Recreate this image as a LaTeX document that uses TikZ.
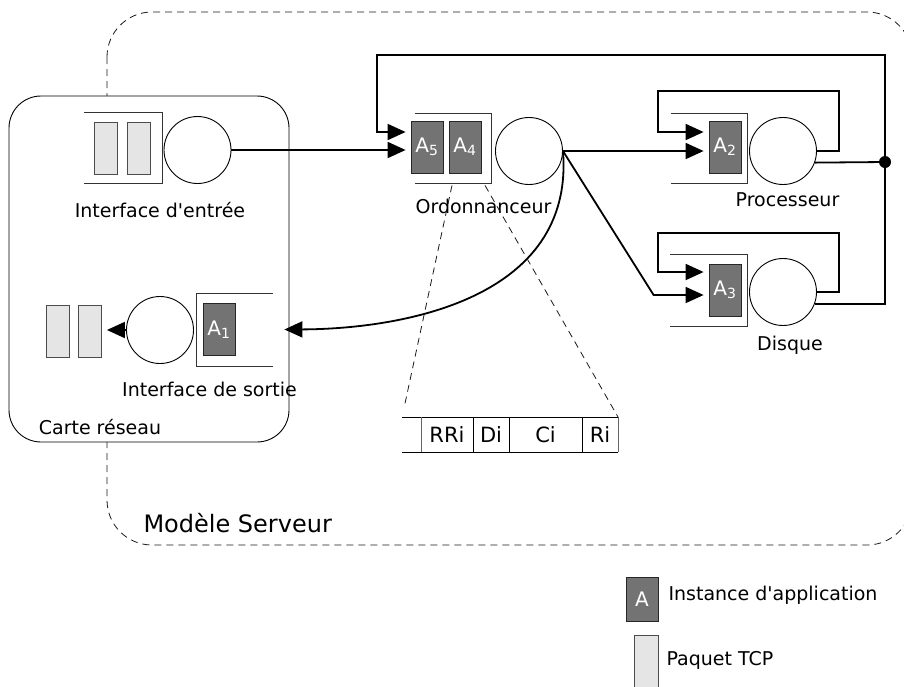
\documentclass[tikz,border=0pt]{standalone}
\usepackage{fontspec}
\setmainfont{DejaVu Sans}[Ligatures=TeXOff]
\usetikzlibrary{arrows.meta,calc}

\begin{document}
\begin{tikzpicture}[
  x=1pt, y=-1pt,
  every node/.style={font=\fontsize{19}{22}\selectfont},
  serveur/.style={circle, draw=black, line width=0.9pt, minimum size=67pt, inner sep=0pt},
  instance/.style={rectangle, draw=black!85, line width=0.8pt, fill=black!55, text=white, minimum width=32pt, minimum height=52pt, inner sep=0pt, font=\fontsize{20}{22}\selectfont},
  paquet/.style={rectangle, draw=black!70, line width=0.8pt, fill=black!10, minimum width=23pt, minimum height=52pt, inner sep=0pt},
  file/.style={draw=black!80, line width=0.8pt},
  lien/.style={line width=1.8pt},
  fleche/.style={lien, -{Triangle[length=18pt,width=16pt]}, shorten >=5pt},
  pointille/.style={draw=black!90, line width=0.8pt, dash pattern=on 7pt off 5pt},
  tableau/.style={line width=0.8pt}
]
\useasboundingbox (0,0) rectangle (904,686);
\clip (0,0) rectangle (904,686);

\draw[pointille, rounded corners=45pt] (107,12) rectangle (912,545);
\draw[line width=0.9pt, fill=white, rounded corners=32pt] (9,96) rectangle (289,442);
\node (carte) at (100,427) {Carte réseau};

\node[paquet] (pk1) at (105.5,148) {};
\node[paquet] (pk2) at (138.5,148) {};
\draw[file] (84,112) -| (162,183) -- (84,183);
\node[serveur] (inS) at (197.5,150) {};
\node (inL) at (160,210) {Interface d'entrée};

\node[instance] (a5) at (427,147) {A\textsubscript{5}};
\node[instance] (a4) at (465,147) {A\textsubscript{4}};
\draw[file] (415,113) -| (491,183) -- (415,183);
\node[serveur] (ordS) at (529,151) {};
\node (ordL) at (483.5,206) {Ordonnanceur};

\node[instance] (a2) at (725,147) {A\textsubscript{2}};
\draw[file] (671,113) -| (747,183) -- (671,183);
\node[serveur] (procS) at (783,151) {};
\node (procL) at (787.5,200) {Processeur};

\node[instance] (a3) at (725,290) {A\textsubscript{3}};
\draw[file] (670,254) -| (747,326) -- (670,326);
\node[serveur] (dskS) at (783,292) {};
\node (dskL) at (790,345) {Disque};

\node[instance] (a1) at (219,329.5) {A\textsubscript{1}};
\draw[file] (273,293) -| (196,366) -- (273,366);
\node[serveur] (outS) at (160,330) {};
\node[paquet] (pk3) at (57.5,331.5) {};
\node[paquet] (pk4) at (90,331.5) {};
\node (outL) at (209.5,389) {Interface de sortie};

\coordinate (jct) at (885,162);
\fill (jct) circle (6pt);

\draw[fleche] (inS.east) -- (inS.east -| a5.west);
\draw[fleche] (jct) |- ($(a5.west)+(-34,-92)$) |- ($(a5.west)+(0,-15)$);
\draw[fleche] (ordS.east) -- (ordS.east -| a2.west);
\draw[fleche] (ordS.east) -- ($(a3.west)+(-55,5)$) -- ($(a3.west)+(0,5)$);
\draw[fleche] (procS.east) -- ++(22,0) |- ($(a2.west)+(-51,-56)$) |- ($(a2.west)+(0,-15)$);
\draw[fleche] (dskS.east) -- ++(22,0) |- ($(a3.west)+(-51,-57)$) |- ($(a3.west)+(0,-18)$);
\draw[lien] (procS.-20) -- (jct);
\draw[lien] (dskS.-20) -| (jct);
\draw[fleche] (ordS.east) .. controls (575,300) and (400,329) .. ($(a1.east)+(44,0)$);
\draw[fleche] (outS.west) -- (outS.west -| pk4.east);

\coordinate (zoomG) at ($(a4.south)+(-13,12)$);
\coordinate (zoomD) at ($(a4.south)+(20,12)$);
\draw[pointille] (zoomG) -- (404,408);
\draw[pointille] (zoomD) -- (618,417);

\draw[tableau] (402,417) -- (618,417) (402,452) -- (618,452);
\foreach \x in {473,509,582}
  \draw[tableau] (\x,417) -- (\x,452);
\foreach \x in {421,618}
  \draw[tableau, black!60] (\x,417) -- (\x,452);
\node[font=\fontsize{21}{24}\selectfont] (rri) at (447,434.5) {RRi};
\node[font=\fontsize{21}{24}\selectfont] (di) at (491,434.5) {Di};
\node[font=\fontsize{21}{24}\selectfont] (ci) at (545.5,434.5) {Ci};
\node[font=\fontsize{21}{24}\selectfont] (ri) at (600,434.5) {Ri};

\node[anchor=west, font=\fontsize{24}{28}\selectfont] (modele) at (140,523) {Modèle Serveur};

\node[instance, minimum height=44pt] (legA) at (642,599) {A};
\node[anchor=west] (legAt) at (665,595) {Instance d'application};
\node[paquet, minimum width=24pt, minimum height=56pt] (legP) at (646,663) {};
\node[anchor=west] (legPt) at (663,660) {Paquet TCP};
\end{tikzpicture}
\end{document}
